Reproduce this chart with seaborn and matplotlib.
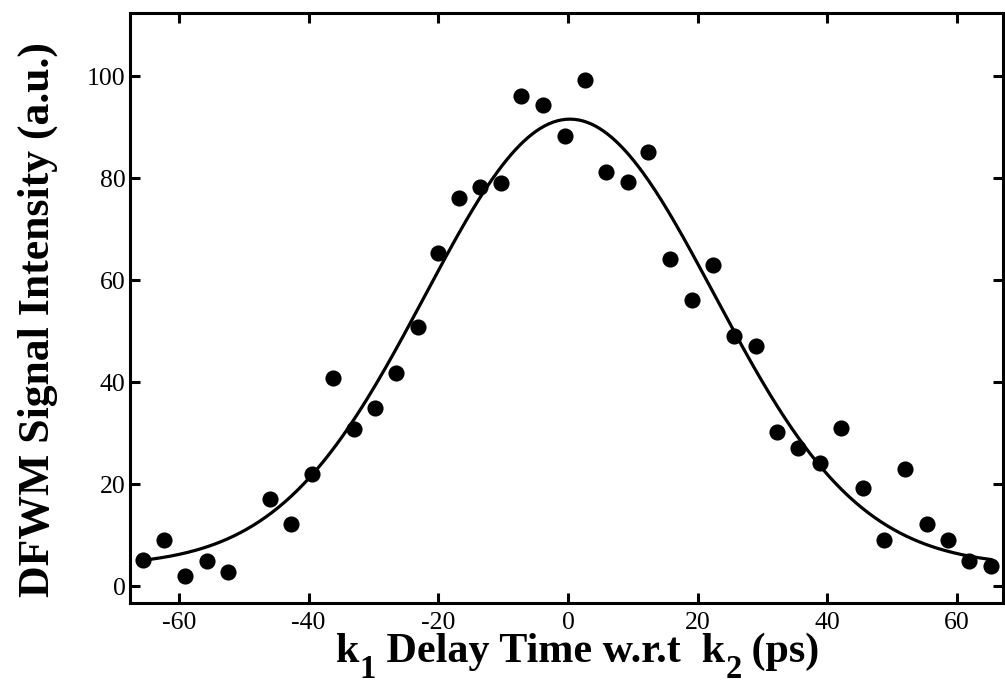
import numpy as np
import pandas as pd
import matplotlib
matplotlib.use("Agg")
import matplotlib.pyplot as plt
import seaborn as sns

# Measured DFWM signal vs. k1 delay relative to k2
delay_ps = [-65.6, -62.3, -59.1, -55.7, -52.4, -45.9, -42.7, -39.5, -36.2, -33.0,
            -29.7, -26.5, -23.2, -20.0, -16.8, -13.5, -10.3, -7.2, -3.9, -0.5,
            2.7, 5.9, 9.2, 12.4, 15.7, 19.1, 22.4, 25.6, 29.0, 32.2,
            35.5, 38.8, 42.1, 45.5, 48.7, 52.0, 55.4, 58.6, 61.9, 65.3]
signal = [5.1, 9.0, 2.0, 4.9, 2.9, 17.1, 12.2, 22.0, 40.8, 30.8,
          34.9, 41.8, 50.8, 65.3, 76.1, 78.2, 79.0, 96.1, 94.3, 88.2,
          99.2, 81.2, 79.2, 85.1, 64.1, 56.1, 63.1, 49.0, 47.1, 30.2,
          27.1, 24.1, 31.0, 19.2, 9.0, 23.1, 12.2, 9.0, 4.9, 3.9]

# Gaussian fit parameters: offset, amplitude, centre (ps), width sigma (ps)
fit_offset = 4.0
fit_amplitude = 87.6
fit_center = 0.3
fit_sigma = 22.3

x_ticks = [-60, -40, -20, 0, 20, 40, 60]
y_ticks = [0, 20, 40, 60, 80, 100]

# x-axis title pieces: (text, is_subscript)
xlabel_parts = [("k", False), ("1", True), (" Delay Time w.r.t  k", False),
                ("2", True), (" (ps)", False)]
ylabel_text = "DFWM Signal Intensity (a.u.)"

sns.set_theme(style="ticks")
plt.rcParams["font.family"] = ["Liberation Serif", "DejaVu Serif"]
plt.rcParams["text.color"] = "black"
plt.rcParams["axes.labelcolor"] = "black"

data = pd.DataFrame({"delay": delay_ps, "signal": signal})

fit_x = np.linspace(min(delay_ps), max(delay_ps), 400)
fit_y = fit_offset + fit_amplitude * np.exp(-(fit_x - fit_center) ** 2 / (2 * fit_sigma ** 2))
fit = pd.DataFrame({"delay": fit_x, "signal": fit_y})

W, H = 1005, 687
fig = plt.figure(figsize=(W / 100, H / 100), dpi=100)
ax = fig.add_axes([0.129, 0.122, 0.869, 0.859])

sns.lineplot(data=fit, x="delay", y="signal", ax=ax, color="black",
             linewidth=2.3, zorder=2)
sns.scatterplot(data=data, x="delay", y="signal", ax=ax, color="black",
                s=135, linewidth=0, zorder=3)

ax.set_xlim(-67.6, 67.1)
ax.set_ylim(-3.3, 112.4)
ax.set_xticks(x_ticks)
ax.set_yticks(y_ticks)
ax.set_xticklabels([str(t) for t in x_ticks])
ax.set_yticklabels([str(t) for t in y_ticks])

for side in ["left", "right", "top", "bottom"]:
    ax.spines[side].set_visible(True)
    ax.spines[side].set_linewidth(2.2)
    ax.spines[side].set_color("black")

ax.tick_params(axis="both", which="major", direction="in", length=7, width=2.2,
               labelsize=18.5, colors="black", top=True, right=True)
ax.tick_params(axis="x", pad=6)
ax.tick_params(axis="y", pad=3)

ax.set_xlabel("")
ax.set_ylabel(ylabel_text, fontsize=31.5, fontweight="bold", color="black")
ax.yaxis.set_label_coords(-0.082, 0.481)

# x-axis title with deep subscripts, laid out piece by piece in pixels
main_size, sub_size = 30.3, 23.5
baseline_px, sub_baseline_px = H - 662, H - 678
renderer = fig.canvas.get_renderer()
texts = []
for s, is_sub in xlabel_parts:
    t = fig.text(0, 0, s, fontsize=sub_size if is_sub else main_size,
                 fontweight="bold", va="baseline", ha="left",
                 color="black", transform=None)
    texts.append((t, is_sub))
widths = [t.get_window_extent(renderer).width for t, _ in texts]
x_px = 578 - sum(widths) / 2
for (t, is_sub), w in zip(texts, widths):
    t.set_position((x_px, sub_baseline_px if is_sub else baseline_px))
    x_px += w

fig.savefig("out.png", dpi=100)
